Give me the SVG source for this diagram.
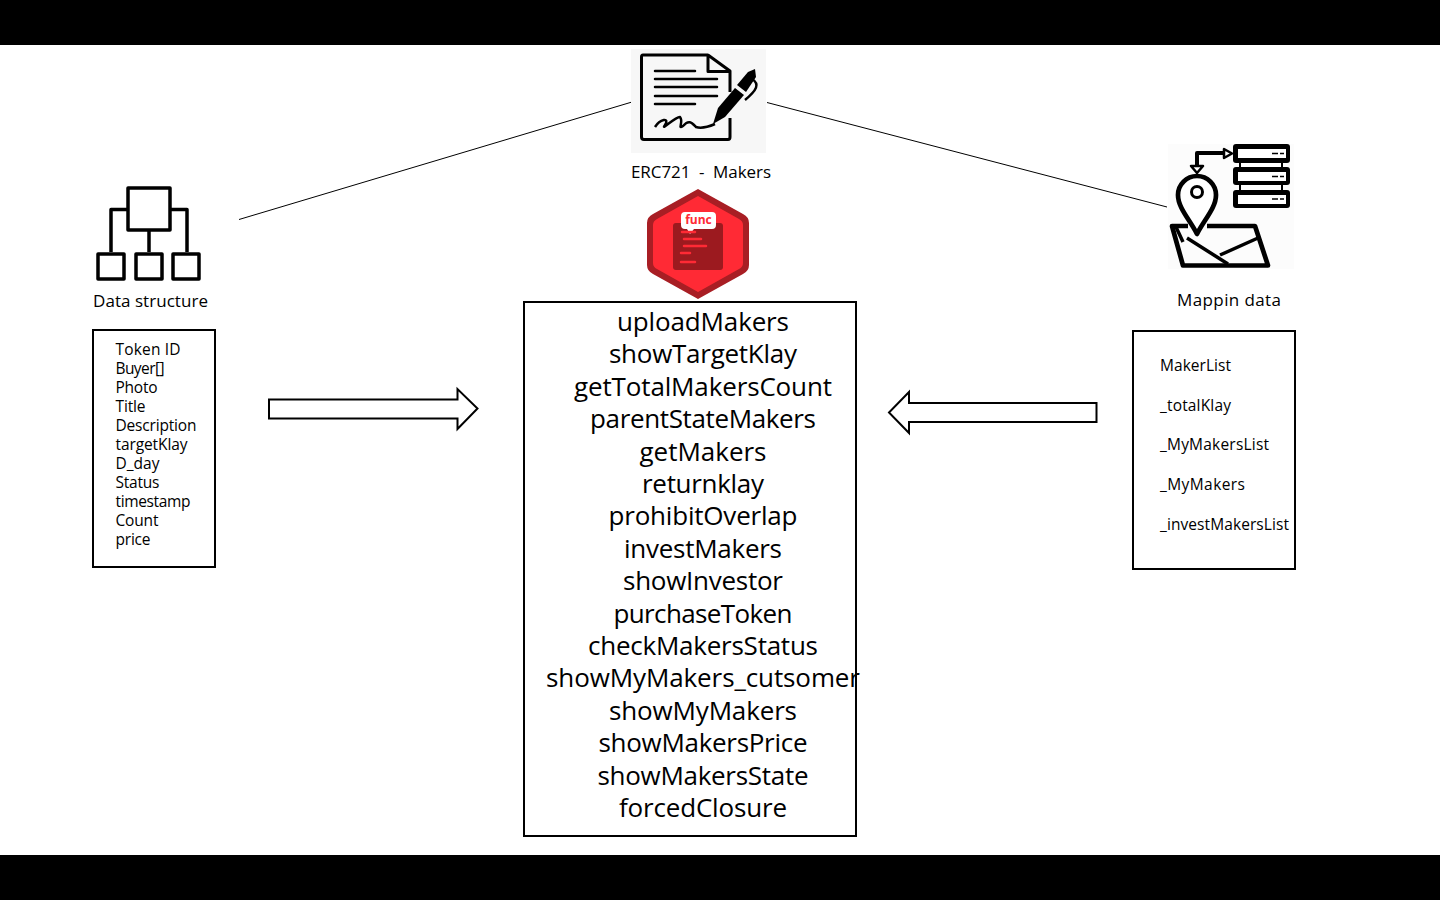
<svg xmlns="http://www.w3.org/2000/svg" width="1440" height="900" viewBox="0 0 1440 900">
<style>
text{font-family:"Open Sans","Noto Sans","Liberation Sans",sans-serif;fill:#000}
.s{font-size:15.500px}
.l{font-size:17px}
.b{font-size:26px;text-anchor:middle}
.box{fill:#fff;stroke:#000;stroke-width:2}
.ic{fill:none;stroke:#000;stroke-linejoin:round}
</style>
<rect width="1440" height="900" fill="#fff"/>
<rect width="1440" height="45" fill="#000"/>
<rect y="855" width="1440" height="45" fill="#000"/>
<g id="connectors" fill="none" stroke="#000" stroke-width="1">
<path d="M239 219.500L632 102"/>
<path d="M767 102.500L1167 207"/>
<path id="arrow-right" d="M269 399.500H457.500V389L477.500 408.500L457.500 429V418.500H269Z" fill="#fff" stroke-width="2"/>
<path id="arrow-left" d="M1096.500 403H909V392L889 412.500L909 433V422H1096.500Z" fill="#fff" stroke-width="2"/>
</g>
<g id="erc721">
<rect x="631" y="49" width="135" height="104" fill="#f7f7f7"/>
<path class="ic" stroke-width="3" d="M708 55H643Q641.500 55 641.500 57V137Q641.500 139.500 644 139.500H728Q730 139.500 730 137V118M730 92V71L708 55V71.500L730 71.500"/>
<path class="ic" stroke-width="2.500" d="M655 71H695M655 79H717M655 87H717M655 96H717M655 104H695" stroke-linecap="round"/>
<path class="ic" stroke-width="2.500" d="M655 127C660 119 670 117 665 125C660 132 676 116 680 117C684 122 677 130 683 126C689 119 692 123 696 127C702 129 708 127 715 124"/>
<path fill="#000" d="M713 124L718 108L735 88L744 95L725 117Z"/>
<path fill="#000" d="M737 85L748 72L755 69L756 77L746 92Z"/>
<path class="ic" stroke-width="2.500" d="M752 79C760 84 757 90 745 100"/>
<text class="l" x="631" y="178" textLength="140" xml:space="preserve">ERC721  -  Makers</text>
</g>
<g id="func">
<path fill="#a81e24" d="M698 189L743 214Q749 217 749 223V265Q749 271 743 274L698 299L653 274Q647 271 647 265V223Q647 217 653 214Z"/>
<path fill="#ff2a35" d="M698 196L739 219Q743 221 743 225V263Q743 267 739 269L698 292L657 269Q653 267 653 263V225Q653 221 657 219Z"/>
<rect x="673" y="223" width="50" height="47" rx="3" fill="#9c1a1f"/>
<path fill="#fff" d="M685 212H712Q716 212 716 216V225Q716 229 712 229H694L690 234L687 229H685Q681 229 681 225V216Q681 212 685 212Z"/>
<text x="698.500" y="224" text-anchor="middle" style="font-size:12px;font-weight:700;fill:#ff2a35">func</text>
<path stroke="#ff2a35" stroke-width="2.500" stroke-linecap="round" fill="none" d="M682 232H695M684 239H701M684 246H706M681 253H690M681 262H695"/>
</g>
<g id="data-structure">
<g class="ic" stroke-width="3.500">
<rect x="128" y="188" width="42" height="42"/>
<path d="M128 209.500H111V252M170 209.500H187V252M149 230V252"/>
<rect x="98" y="254" width="26" height="25"/>
<rect x="136" y="254" width="26" height="25"/>
<rect x="173" y="254" width="26" height="25"/>
</g>
<text class="l" x="93" y="307" textLength="115">Data structure</text>
</g>
<g id="data-list">
<rect class="box" x="93" y="330" width="122" height="237"/>
<text class="s" x="115.500" y="355" textLength="65">Token ID</text>
<text class="s" x="115.500" y="374" textLength="49">Buyer[]</text>
<text class="s" x="115.500" y="393" textLength="42">Photo</text>
<text class="s" x="115.500" y="412" textLength="30">Title</text>
<text class="s" x="115.500" y="431" textLength="81">Description</text>
<text class="s" x="115.500" y="450" textLength="72">targetKlay</text>
<text class="s" x="115.500" y="469" textLength="44">D_day</text>
<text class="s" x="115.500" y="488" textLength="44">Status</text>
<text class="s" x="115.500" y="507" textLength="75">timestamp</text>
<text class="s" x="115.500" y="526" textLength="43">Count</text>
<text class="s" x="115.500" y="545" textLength="35">price</text>
</g>
<g id="functions">
<rect class="box" x="524" y="302" width="332" height="534"/>
<text class="b" x="703" y="331" textLength="172">uploadMakers</text>
<text class="b" x="703" y="363.400" textLength="188">showTargetKlay</text>
<text class="b" x="703" y="395.800" textLength="258">getTotalMakersCount</text>
<text class="b" x="703" y="428.200" textLength="226">parentStateMakers</text>
<text class="b" x="703" y="460.600" textLength="127">getMakers</text>
<text class="b" x="703" y="493" textLength="122">returnklay</text>
<text class="b" x="703" y="525.400" textLength="189">prohibitOverlap</text>
<text class="b" x="703" y="557.800" textLength="158">investMakers</text>
<text class="b" x="703" y="590.200" textLength="160">showInvestor</text>
<text class="b" x="703" y="622.600" textLength="179">purchaseToken</text>
<text class="b" x="703" y="655" textLength="230">checkMakersStatus</text>
<text class="b" x="703" y="687.400" textLength="314">showMyMakers_cutsomer</text>
<text class="b" x="703" y="719.800" textLength="188">showMyMakers</text>
<text class="b" x="703" y="752.200" textLength="209">showMakersPrice</text>
<text class="b" x="703" y="784.600" textLength="211">showMakersState</text>
<text class="b" x="703" y="817" textLength="168">forcedClosure</text>
</g>
<g id="mappin">
<rect x="1168" y="144" width="126" height="125" fill="#fcfcfc"/>
<g fill="#000">
<rect x="1239" y="160" width="44" height="32"/>
<rect x="1233" y="144" width="57" height="19" rx="3"/>
<rect x="1233" y="167" width="57" height="18" rx="3"/>
<rect x="1233" y="190" width="57" height="18" rx="3"/>
</g>
<g fill="#fff">
<rect x="1241" y="163" width="40" height="4"/>
<rect x="1241" y="185" width="40" height="5"/>
<rect x="1238" y="149" width="48" height="9"/>
<rect x="1238" y="172" width="48" height="9"/>
<rect x="1238" y="195" width="48" height="9"/>
</g>
<path stroke="#000" stroke-width="1.500" d="M1272 153.500H1278M1280 153.500H1284M1272 176.500H1278M1280 176.500H1284M1272 199H1278M1280 199H1284"/>
<g class="ic">
<path stroke-width="4" d="M1197 166V153H1226"/>
<path fill="#fff" stroke-width="2.500" d="M1191 166H1203L1197 173ZM1224 149V158L1232 153.500Z"/>
<path stroke-width="4.700" d="M1188 226H1172L1183 265.500H1268L1255 226H1207"/>
<path stroke-width="3.500" d="M1176 227L1183 242M1187 238L1228 264M1220 255L1258 238"/>
<path stroke-width="4.700" fill="#fff" d="M1197 234C1190 220 1178 208 1178 195A19 19 0 0 1 1216 195C1216 208 1204 220 1197 234Z"/>
<circle cx="1197" cy="192" r="5.500" stroke-width="3"/>
</g>
<text class="l" x="1177" y="306" textLength="104">Mappin data</text>
</g>
<g id="mapping-list">
<rect class="box" x="1133" y="331" width="162" height="238"/>
<text class="s" x="1160" y="371" textLength="71">MakerList</text>
<text class="s" x="1160" y="411" textLength="71">_totalKlay</text>
<text class="s" x="1160" y="450" textLength="109">_MyMakersList</text>
<text class="s" x="1160" y="490" textLength="85">_MyMakers</text>
<text class="s" x="1160" y="530" textLength="129">_investMakersList</text>
</g>
</svg>
